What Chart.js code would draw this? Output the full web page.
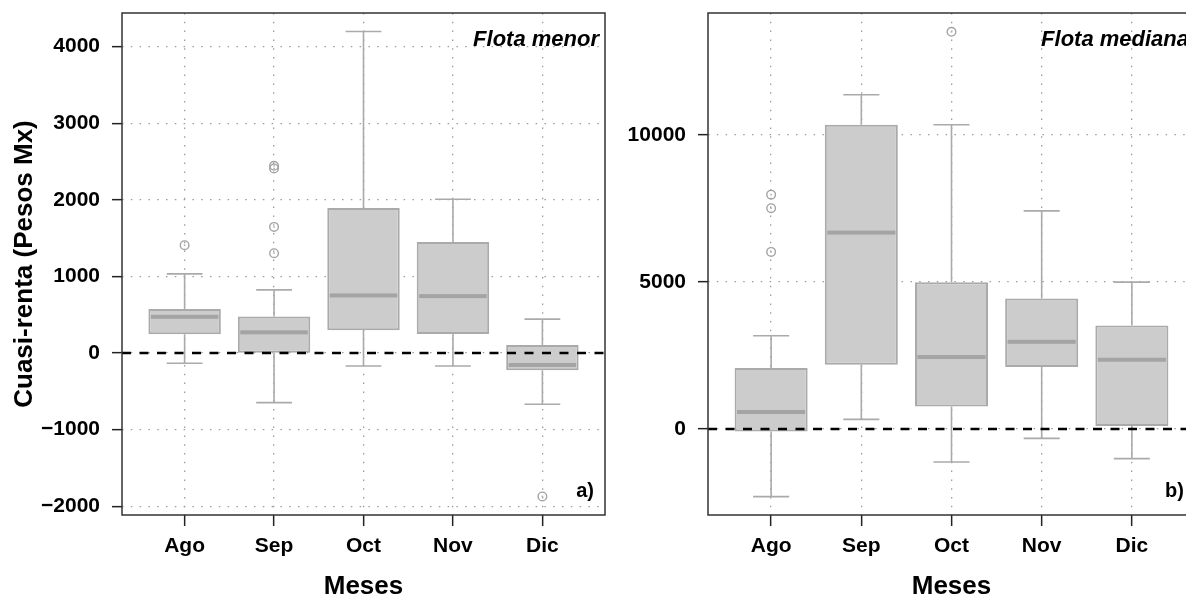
<!DOCTYPE html>
<html>
<head>
<meta charset="utf-8">
<script src="https://cdn.jsdelivr.net/npm/chart.js@4.4.1/dist/chart.umd.min.js"></script>
<style>
  html, body { margin: 0; padding: 0; background: #fff; overflow: hidden; width: 1186px; height: 599px; }
  canvas { position: absolute; top: 0; }
  #chartMenor { left: 0; }
  #chartMediana { left: 600px; }
</style>
</head>
<body>
<canvas id="chartMenor" width="640" height="599"></canvas>
<canvas id="chartMediana" width="620" height="599"></canvas>
<script>
const months = ['Ago', 'Sep', 'Oct', 'Nov', 'Dic']

// a) Flota menor
const menorMin = [-134, -648, -170, -170, -669]
const menorQ1 = [244, 4, 296, 248, -226]
const menorMed = [473, 270, 752, 743, -156]
const menorQ3 = [574, 478, 1895, 1451, 104]
const menorMax = [1034, 825, 4198, 2008, 443]
const menorOutMonth = ['Ago', 'Sep', 'Sep', 'Sep', 'Sep', 'Dic']
const menorOutVal = [1408, 2445, 2410, 1647, 1304, -1873]
const menorTicks = [-2000, -1000, 0, 1000, 2000, 3000, 4000]

// b) Flota mediana
const medianaMin = [-2300, 326, -1121, -319, -1009]
const medianaQ1 = [-82, 2184, 768, 2106, 102]
const medianaMed = [577, 6678, 2446, 2965, 2354]
const medianaQ3 = [2072, 10346, 4993, 4436, 3519]
const medianaMax = [3169, 11365, 10346, 7415, 4993]
const medianaOutMonth = ['Ago', 'Ago', 'Ago', 'Oct']
const medianaOutVal = [7969, 7507, 6022, 13505]
const medianaTicks = [0, 5000, 10000]

const FONT = '"Liberation Sans", Arial, sans-serif'
const boxGrey = '#aaaaaa'
const xMin = 0.3
const xMax = 5.7

Chart.defaults.font.family = FONT

function formatTick(v) {
  return v < 0 ? '\u2212' + Math.abs(v) : String(v)
}

function boxPartsPlugin(stats, title, tag) {
  return {
    id: 'boxParts',
    afterDatasetDraw(chart, args) {
      if (args.index !== 0) return
      const { ctx, scales: { x, y } } = chart
      ctx.save()
      ctx.strokeStyle = boxGrey
      ctx.lineWidth = 1.6
      stats.med.forEach((m, i) => {
        const c = x.getPixelForValue(i + 1)
        const capL = x.getPixelForValue(i + 1 - 0.2)
        const capR = x.getPixelForValue(i + 1 + 0.2)
        const yMax = y.getPixelForValue(stats.max[i])
        const yMin = y.getPixelForValue(stats.min[i])
        ctx.beginPath()
        ctx.moveTo(c, y.getPixelForValue(stats.q3[i]))
        ctx.lineTo(c, yMax)
        ctx.moveTo(capL, yMax)
        ctx.lineTo(capR, yMax)
        ctx.moveTo(c, y.getPixelForValue(stats.q1[i]))
        ctx.lineTo(c, yMin)
        ctx.moveTo(capL, yMin)
        ctx.lineTo(capR, yMin)
        ctx.stroke()

        const bl = x.getPixelForValue(i + 1 - 0.4)
        const br = x.getPixelForValue(i + 1 + 0.4)
        const ym = y.getPixelForValue(m)
        ctx.fillStyle = '#a4a4a4'
        ctx.fillRect(bl + 2, ym - 2, br - bl - 4, 4)
      })
      ctx.restore()
    },
    afterDraw(chart) {
      const { ctx, chartArea: a } = chart
      ctx.save()
      ctx.strokeStyle = '#333'
      ctx.lineWidth = 1.5
      ctx.strokeRect(a.left, a.top, a.right - a.left, a.bottom - a.top)
      ctx.fillStyle = '#000'
      ctx.textAlign = 'right'
      ctx.textBaseline = 'alphabetic'
      ctx.font = 'italic bold 22px ' + FONT
      ctx.fillText(title, a.right - 6, a.top + 33)
      ctx.font = 'bold 20px ' + FONT
      ctx.fillText(tag, a.right - 11, a.bottom - 18)
      ctx.restore()
    }
  }
}

function createBoxChart(canvasId, cfg) {
  const stats = { min: cfg.min, q1: cfg.q1, med: cfg.med, q3: cfg.q3, max: cfg.max }
  const tickFont = { family: FONT, size: 21, weight: 'bold' }
  const gridStyle = {
    offset: false,
    color: '#9c9c9c',
    lineWidth: 1.3,
    drawTicks: true,
    tickColor: '#222',
    tickWidth: 1.5
  }
  const outliers = cfg.outMonth.map((m, i) => ({ x: months.indexOf(m) + 1, y: cfg.outVal[i] }))

  return new Chart(document.getElementById(canvasId), {
    type: 'bar',
    data: {
      datasets: [
        {
          type: 'bar',
          order: 2,
          data: months.map((m, i) => ({ x: i + 1, y: [cfg.q1[i], cfg.q3[i]] })),
          backgroundColor: '#cccccc',
          borderColor: boxGrey,
          borderWidth: 2,
          borderSkipped: false,
          grouped: false,
          barPercentage: 0.81,
          categoryPercentage: 1
        },
        {
          type: 'scatter',
          order: 1,
          data: outliers,
          pointRadius: 4.3,
          pointBorderColor: '#a3a3a3',
          pointBorderWidth: 1.4,
          pointBackgroundColor: 'rgba(0,0,0,0)'
        },
        {
          type: 'scatter',
          order: 1,
          data: outliers,
          pointRadius: 0.9,
          pointBorderWidth: 0,
          pointBackgroundColor: '#b0b0b0'
        },
        {
          type: 'line',
          order: 0,
          data: [{ x: xMin, y: 0 }, { x: xMax, y: 0 }],
          borderColor: '#000',
          borderWidth: 2.6,
          borderDash: [9, 8.5],
          pointRadius: 0
        }
      ]
    },
    options: {
      responsive: false,
      animation: false,
      events: [],
      layout: { padding: { top: 13, right: cfg.padRight, bottom: 0, left: 0 } },
      plugins: { legend: { display: false }, tooltip: { enabled: false } },
      scales: {
        x: {
          type: 'linear',
          min: xMin,
          max: xMax,
          offset: false,
          afterBuildTicks: s => { s.ticks = months.map((m, i) => ({ value: i + 1 })) },
          afterFit: s => {
            s.height = 84
            s.paddingLeft = 0
            s.paddingRight = 0
          },
          ticks: {
            callback: (v, i) => months[i],
            font: tickFont,
            color: '#000',
            padding: 8,
            maxRotation: 0,
            autoSkip: false
          },
          grid: { ...gridStyle, tickLength: 11 },
          border: { display: false, dash: [1.5, 7.3] },
          title: {
            display: true,
            text: 'Meses',
            color: '#000',
            font: { family: FONT, size: 26, weight: 'bold', lineHeight: 1 },
            padding: { top: 0, bottom: -1 }
          }
        },
        y: {
          type: 'linear',
          min: cfg.yMin,
          max: cfg.yMax,
          afterBuildTicks: s => { s.ticks = cfg.ticks.map(v => ({ value: v })) },
          afterFit: s => {
            s.width = cfg.yWidth
            s.paddingTop = 0
            s.paddingBottom = 0
          },
          ticks: { callback: formatTick, font: tickFont, color: '#000', padding: 12 },
          grid: { ...gridStyle, tickLength: 10 },
          border: { display: false, dash: [1.5, 7.3] },
          title: {
            display: cfg.yTitle !== '',
            text: cfg.yTitle,
            color: '#000',
            font: { family: FONT, size: 26, weight: 'bold', lineHeight: 1.2 },
            padding: { top: 9, bottom: 0 }
          }
        }
      }
    },
    plugins: [boxPartsPlugin(stats, cfg.title, cfg.tag)]
  })
}

createBoxChart('chartMenor', {
  min: menorMin, q1: menorQ1, med: menorMed, q3: menorQ3, max: menorMax,
  outMonth: menorOutMonth, outVal: menorOutVal, ticks: menorTicks,
  yMin: -2115, yMax: 4440, yWidth: 122, padRight: 35,
  yTitle: 'Cuasi-renta (Pesos Mx)', title: 'Flota menor', tag: 'a)'
})

createBoxChart('chartMediana', {
  min: medianaMin, q1: medianaQ1, med: medianaMed, q3: medianaQ3, max: medianaMax,
  outMonth: medianaOutMonth, outVal: medianaOutVal, ticks: medianaTicks,
  yMin: -2925, yMax: 14145, yWidth: 108, padRight: 25,
  yTitle: '', title: 'Flota mediana', tag: 'b)'
})
</script>
</body>
</html>
